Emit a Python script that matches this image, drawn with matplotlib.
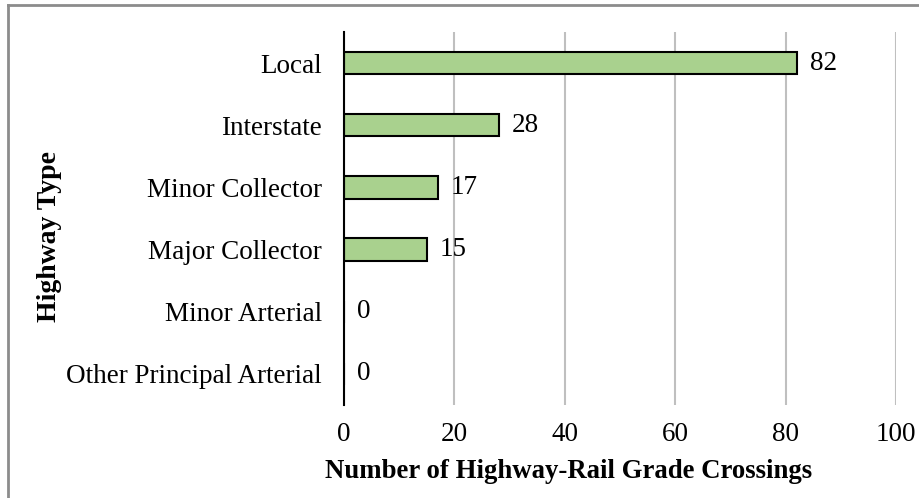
import matplotlib
matplotlib.use('Agg')
import matplotlib.pyplot as plt
from matplotlib.lines import Line2D

categories = ["Other Principal Arterial", "Minor Arterial", "Major Collector",
              "Minor Collector", "Interstate", "Local"]
crossings = [0, 0, 15, 17, 28, 82]
xticks = [0, 20, 40, 60, 80, 100]

plt.rcParams['font.family'] = ['Liberation Serif', 'DejaVu Serif']
FS = 19.5

fig = plt.figure(figsize=(9.19, 4.98), dpi=100)
ax = fig.add_axes([0.3743, 0.1867, 0.6007, 0.749])

ypos = range(len(categories))
ax.barh(ypos, crossings, height=0.36, color='#A9D18E', edgecolor='black',
        linewidth=1.5, zorder=3)
for y, v in zip(ypos, crossings):
    ax.text(v + 2.4, y, str(v), va='center', ha='left', fontsize=FS, zorder=4)

ax.set_xlim(0, 100)
ax.set_ylim(-0.5, len(categories) - 0.5)
ax.set_xticks(xticks)
ax.set_yticks(list(ypos))
ax.set_yticklabels(categories)
ax.tick_params(axis='both', length=0, labelsize=FS)
ax.tick_params(axis='x', pad=12)
ax.tick_params(axis='y', pad=16)
ax.grid(axis='x', color='#BFBFBF', linewidth=1.5, zorder=0)
for s in ['top', 'right', 'bottom']:
    ax.spines[s].set_visible(False)
ax.spines['left'].set_linewidth(1.5)
ax.spines['left'].set_zorder(5)

ax.set_xlabel("Number of Highway-Rail Grade Crossings", fontsize=19.3,
              fontweight='bold')
ax.xaxis.set_label_coords(0.406, -0.145)
ax.set_ylabel("Highway Type", fontsize=20, fontweight='bold')
ax.yaxis.set_label_coords(-0.511, 0.453)

# outer frame (top and left edges visible)
fig.add_artist(Line2D([8 / 919, 1], [1 - 5 / 498, 1 - 5 / 498],
                      transform=fig.transFigure, color='#8C8C8C', linewidth=2))
fig.add_artist(Line2D([8 / 919, 8 / 919], [0, 1 - 5 / 498],
                      transform=fig.transFigure, color='#8C8C8C', linewidth=2))

plt.savefig("out.png", dpi=100)
